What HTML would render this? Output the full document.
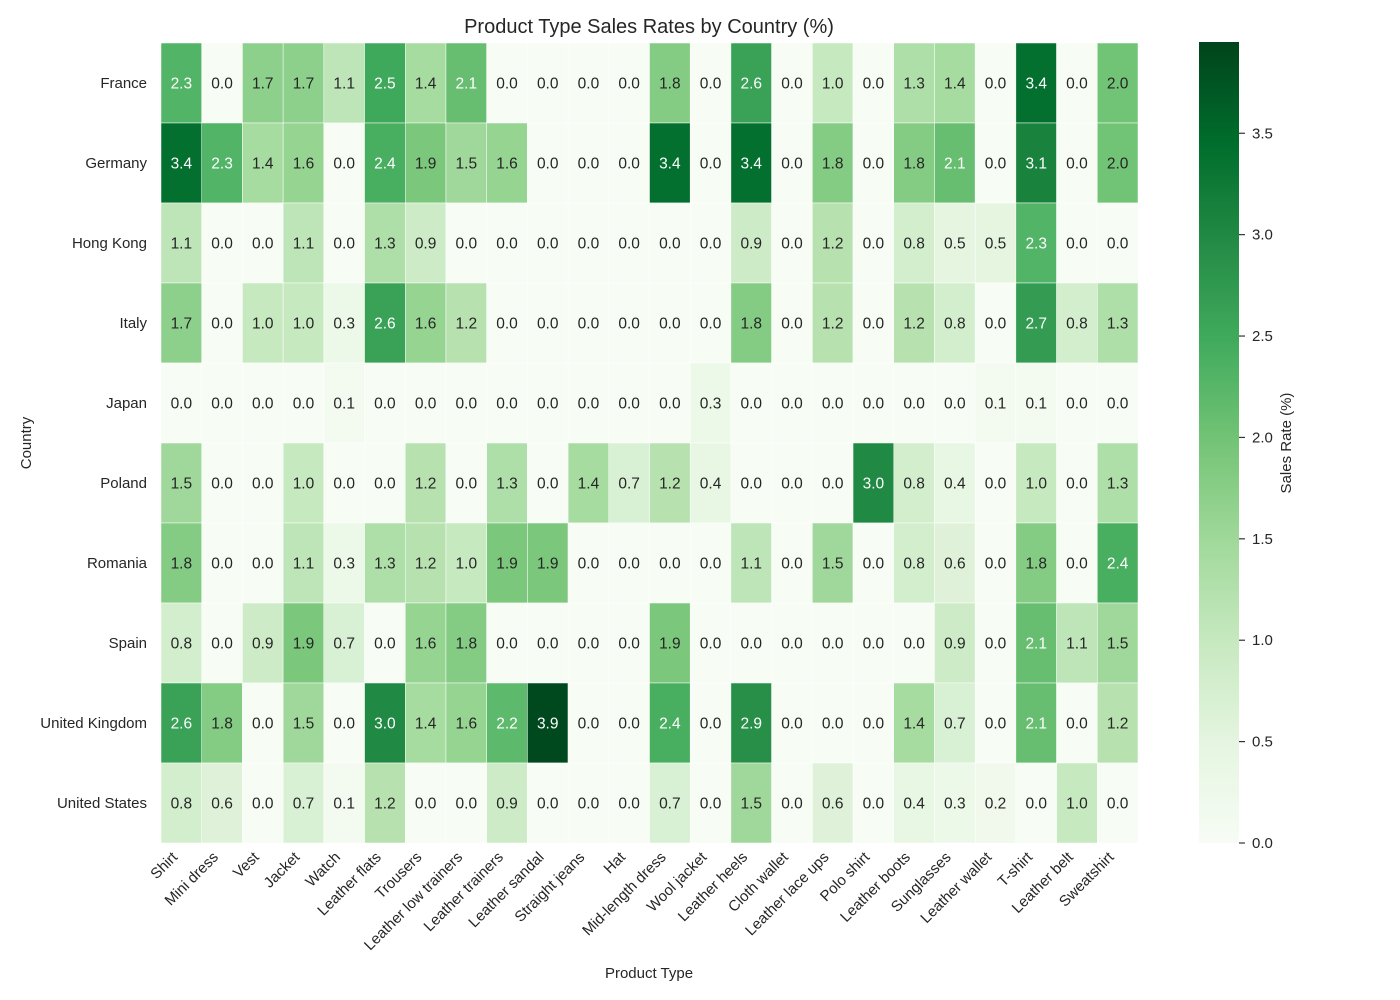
<!DOCTYPE html>
<html><head><meta charset="utf-8"><style>
body{margin:0;background:#fff;}
svg{display:block;font-family:"Liberation Sans","DejaVu Sans",sans-serif;}
</style></head><body>
<svg id="chart" width="1400" height="1000"></svg>
<script>
const countries=["France","Germany","Hong Kong","Italy","Japan","Poland","Romania","Spain","United Kingdom","United States"];
const products=["Shirt","Mini dress","Vest","Jacket","Watch","Leather flats","Trousers","Leather low trainers","Leather trainers","Leather sandal","Straight jeans","Hat","Mid-length dress","Wool jacket","Leather heels","Cloth wallet","Leather lace ups","Polo shirt","Leather boots","Sunglasses","Leather wallet","T-shirt","Leather belt","Sweatshirt"];
const rowFrance=[2.3,0,1.7,1.7,1.1,2.5,1.4,2.1,0,0,0,0,1.8,0,2.6,0,1.0,0,1.3,1.4,0,3.4,0,2.0];
const rowGermany=[3.4,2.3,1.4,1.6,0,2.4,1.9,1.5,1.6,0,0,0,3.4,0,3.4,0,1.8,0,1.8,2.1,0,3.1,0,2.0];
const rowHongKong=[1.1,0,0,1.1,0,1.3,0.9,0,0,0,0,0,0,0,0.9,0,1.2,0,0.8,0.5,0.5,2.3,0,0];
const rowItaly=[1.7,0,1.0,1.0,0.3,2.6,1.6,1.2,0,0,0,0,0,0,1.8,0,1.2,0,1.2,0.8,0,2.7,0.8,1.3];
const rowJapan=[0,0,0,0,0.1,0,0,0,0,0,0,0,0,0.3,0,0,0,0,0,0,0.1,0.1,0,0];
const rowPoland=[1.5,0,0,1.0,0,0,1.2,0,1.3,0,1.4,0.7,1.2,0.4,0,0,0,3.0,0.8,0.4,0,1.0,0,1.3];
const rowRomania=[1.8,0,0,1.1,0.3,1.3,1.2,1.0,1.9,1.9,0,0,0,0,1.1,0,1.5,0,0.8,0.6,0,1.8,0,2.4];
const rowSpain=[0.8,0,0.9,1.9,0.7,0,1.6,1.8,0,0,0,0,1.9,0,0,0,0,0,0,0.9,0,2.1,1.1,1.5];
const rowUK=[2.6,1.8,0,1.5,0,3.0,1.4,1.6,2.2,3.9,0,0,2.4,0,2.9,0,0,0,1.4,0.7,0,2.1,0,1.2];
const rowUS=[0.8,0.6,0,0.7,0.1,1.2,0,0,0.9,0,0,0,0.7,0,1.5,0,0.6,0,0.4,0.3,0.2,0,1.0,0];
const values=[rowFrance,rowGermany,rowHongKong,rowItaly,rowJapan,rowPoland,rowRomania,rowSpain,rowUK,rowUS];
const cbTicks=[0,0.5,1,1.5,2,2.5,3,3.5];
const vmax=3.95;

const NS="http://www.w3.org/2000/svg";
const svg=document.getElementById('chart');
function mk(tag,attrs,parent){const e=document.createElementNS(NS,tag);for(const k in attrs)e.setAttribute(k,attrs[k]);(parent||svg).appendChild(e);return e;}
const stops=["#f7fcf5","#e5f5e0","#c7e9c0","#a1d99b","#74c476","#41ab5d","#238b45","#006d2c","#00441b"];
function hex(h){return [1,3,5].map(i=>parseInt(h.substr(i,2),16));}
function color(v){let t=Math.max(0,Math.min(1,v/vmax))*(stops.length-1);let i=Math.min(Math.floor(t),stops.length-2);let f=t-i;const a=hex(stops[i]),b=hex(stops[i+1]);return "rgb("+a.map((x,k)=>Math.round(x+(b[k]-x)*f)).join(",")+")";}
const L=161,R=1138,T=43,B=843;
const cw=(R-L)/products.length, ch=(B-T)/countries.length;
const xC=j=>L+cw*(j+0.5), yC=i=>T+ch*(i+0.5);

mk('text',{x:649,y:33,'text-anchor':'middle','font-size':20,fill:'#262626',}).textContent="Product Type Sales Rates by Country (%)";

const g=mk('g',{});
values.forEach((row,i)=>row.forEach((v,j)=>{
  const r=mk('rect',{x:L+cw*j,y:T+ch*i,width:cw,height:ch,fill:color(v),stroke:'#fff','stroke-width':0.5},g);
  
  
  const t=mk('text',{x:xC(j),y:yC(i)+5.5,'text-anchor':'middle','font-size':15.5,fill:v>=2.05?'#fff':'#262626'},g);
  
  
  t.textContent=v.toFixed(1);
}));

countries.forEach((c,i)=>{
  const t=mk('text',{x:147,y:yC(i)+5,'text-anchor':'end','font-size':15,fill:'#262626'});
  
  
  t.textContent=c;
});
products.forEach((p,j)=>{
  const x=xC(j)-3,y=858;
  const t=mk('text',{x:x,y:y,'text-anchor':'end','font-size':15,fill:'#262626',transform:`rotate(-45 ${x} ${y})`});
  
  
  t.textContent=p;
});
mk('text',{x:649,y:978,'text-anchor':'middle','font-size':15,fill:'#262626',}).textContent="Product Type";
mk('text',{x:31,y:443,'text-anchor':'middle','font-size':15,fill:'#262626',transform:'rotate(-90 31 443)',}).textContent="Country";

const defs=mk('defs',{});
const lg=mk('linearGradient',{id:'cb',x1:0,y1:1,x2:0,y2:0},defs);
stops.forEach((s,k)=>mk('stop',{offset:k/(stops.length-1),'stop-color':s},lg));
mk('rect',{x:1199,y:42,width:40,height:801,fill:'url(#cb)',});
const cy=v=>843-v/vmax*801;
cbTicks.forEach(v=>{
  const l=mk('line',{x1:1239,x2:1245,y1:cy(v),y2:cy(v),stroke:'#333','stroke-width':1.2});
  
  
  const t=mk('text',{x:1252,y:cy(v)+5,'font-size':15,fill:'#262626'});
  
  
  t.textContent=v.toFixed(1);
});
mk('text',{x:1291,y:443,'text-anchor':'middle','font-size':15,fill:'#262626',transform:'rotate(-90 1291 443)',}).textContent="Sales Rate (%)";
</script>
</body></html>
